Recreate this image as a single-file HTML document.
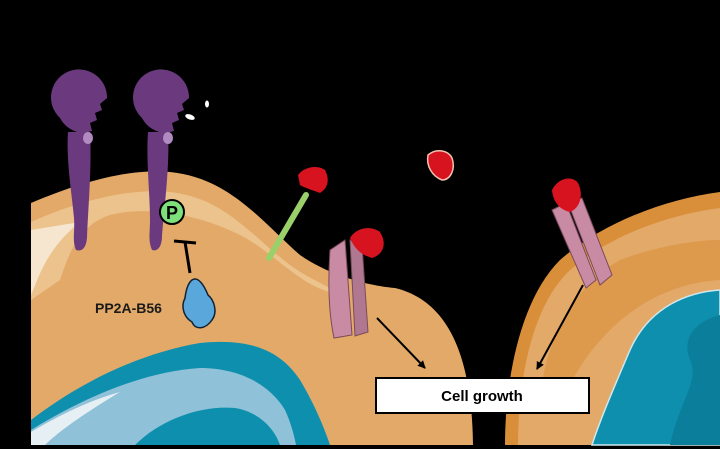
<!DOCTYPE html>
<html><head><style>
html,body{margin:0;padding:0;background:#000;}
svg{display:block;}
</style></head><body>
<svg width="720" height="449" viewBox="0 0 720 449" xmlns="http://www.w3.org/2000/svg">
<rect width="720" height="449" fill="#000"/>
<defs>
<marker id="ah" markerWidth="8" markerHeight="8" refX="7" refY="4" orient="auto" markerUnits="userSpaceOnUse"><path d="M0,0 L8,4 L0,8 Z" fill="#000"/></marker>
</defs>
<path d="M31,445 L31,203 C80,182 130,168 170,172 C230,178 262,222 300,255 C330,276 370,286 395,288 C445,300 472,350 473,445 Z" fill="#e3a968"/>
<path d="M31,222 C80,200 130,188 170,192 C225,198 250,235 290,265 C315,283 340,290 330,292 C300,285 270,250 240,235 C200,215 150,205 110,215 C80,225 70,250 60,280 L31,300 Z" fill="#ecc590" opacity="0.9"/>
<path d="M31,230 L31,295 C38,280 45,250 80,222 Z" fill="#f6e6d0"/>
<path d="M31,445 L31,420 C70,390 130,355 200,343 C250,338 280,350 300,380 C315,405 325,430 330,445 Z" fill="#0e8fae"/>
<path d="M31,445 L31,430 C80,400 140,372 200,368 C240,368 270,385 285,410 C292,425 295,440 296,445 Z" fill="#8fc1d8"/>
<path d="M135,445 C160,420 200,405 235,408 C260,412 275,430 280,445 Z" fill="#0e8fae"/>
<path d="M31,445 L31,432 C60,415 90,400 120,392 C90,410 60,430 45,445 Z" fill="#e6f0f4"/>
<path d="M505,445 C505,380 520,300 560,260 C600,225 660,200 720,192 L720,445 Z" fill="#d98f3a"/>
<path d="M518,445 C518,385 530,310 568,272 C605,238 665,215 720,208 L720,445 Z" fill="#e3a968"/>
<path d="M540,400 C545,340 575,285 620,260 C660,245 700,240 720,240 L720,280 C680,282 640,300 610,330 C585,355 570,380 560,410 Z" fill="#d98f3a" opacity="0.6"/>
<path d="M720,290 C690,292 650,305 630,350 C615,385 600,420 592,445 L720,445 Z" fill="#0e8fae" stroke="#cfe8ef" stroke-width="1.5"/>
<path d="M720,315 C700,320 680,335 690,360 C700,380 680,400 670,445 L720,445 Z" fill="#0a7e9a"/>
<g fill="#6b3a7e">
<path d="M60,118 A28,28 0 1 1 107,98 L100,104 L102,110 L95,113 L97,120 L90,123 L92,131 L84,133 A28,28 0 0 1 60,118 Z"/>
<path d="M68,132 C66,160 72,195 74,218 C75,232 72,240 76,250 C82,252 86,248 87,238 C88,210 92,165 90,132 Z"/>
<path d="M142,118 A28,28 0 1 1 189,98 L182,104 L184,110 L177,113 L179,120 L172,123 L174,131 L166,133 A28,28 0 0 1 142,118 Z"/>
<path d="M148,132 C146,160 150,195 150,218 C150,235 148,240 152,250 C158,252 162,246 162,236 C164,210 170,165 168,132 Z"/>
</g>
<ellipse cx="88" cy="138" rx="5" ry="6" fill="#b08ac0"/>
<ellipse cx="168" cy="138" rx="5" ry="6" fill="#b08ac0"/>
<ellipse cx="207" cy="104" rx="2" ry="3.5" fill="#fff"/>
<ellipse cx="190" cy="117" rx="5" ry="2.5" fill="#fff" transform="rotate(20 190 117)"/>
<circle cx="172" cy="212" r="12" fill="#7ee07a" stroke="#000" stroke-width="2"/>
<text x="172" y="219" text-anchor="middle" font-family="Liberation Sans, sans-serif" font-weight="bold" font-size="18" fill="#000">P</text>
<line x1="174" y1="241" x2="196" y2="243" stroke="#000" stroke-width="3"/>
<line x1="185" y1="242" x2="190" y2="273" stroke="#000" stroke-width="3"/>
<path d="M192,280 C198,276 204,285 208,295 C214,300 218,312 212,320 C205,330 195,330 192,322 C185,318 180,308 185,298 C186,290 188,283 192,280 Z" fill="#5aa7dc" stroke="#123" stroke-width="1.5"/>
<text x="95" y="313" font-family="Liberation Sans, sans-serif" font-weight="bold" font-size="14" fill="#1a1a1a">PP2A-B56</text>
<line x1="269" y1="258" x2="306" y2="195" stroke="#9ad06a" stroke-width="6" stroke-linecap="round"/>
<path d="M298,175 C305,166 318,165 325,170 C330,180 328,188 320,193 C312,190 305,188 300,185 Z" fill="#d81320"/>
<path d="M330,250 L345,240 L352,335 L334,338 C328,310 328,280 330,250 Z" fill="#c98aa4" stroke="#7a4a5a" stroke-width="1"/>
<path d="M350,240 L362,245 L368,332 L355,336 Z" fill="#b07890" stroke="#7a4a5a" stroke-width="1"/>
<path d="M350,238 C356,228 370,225 380,232 C388,245 382,255 372,258 C362,255 355,250 350,238 Z" fill="#d81320"/>
<path d="M428,155 C436,148 448,150 452,158 C456,170 450,180 442,180 C432,176 426,166 428,155 Z" fill="#d81320" stroke="#f3c1ae" stroke-width="1.5"/>
<path d="M552,210 L566,203 L596,280 L586,288 Z" fill="#c98aa4" stroke="#7a4a5a" stroke-width="1"/>
<path d="M568,203 L582,198 L612,275 L600,285 Z" fill="#c98aa4" stroke="#7a4a5a" stroke-width="1"/>
<path d="M552,190 C558,178 572,175 578,183 C584,195 580,208 570,212 C560,210 553,202 552,190 Z" fill="#d81320"/>
<line x1="377" y1="318" x2="425" y2="368" stroke="#000" stroke-width="2" marker-end="url(#ah)"/>
<line x1="583" y1="285" x2="537" y2="369" stroke="#000" stroke-width="2" marker-end="url(#ah)"/>
<rect x="376" y="378" width="213" height="35" fill="#fff" stroke="#000" stroke-width="2"/>
<text x="482" y="401" text-anchor="middle" font-family="Liberation Sans, sans-serif" font-weight="bold" font-size="15" fill="#000">Cell growth</text>
</svg>
</body></html>
